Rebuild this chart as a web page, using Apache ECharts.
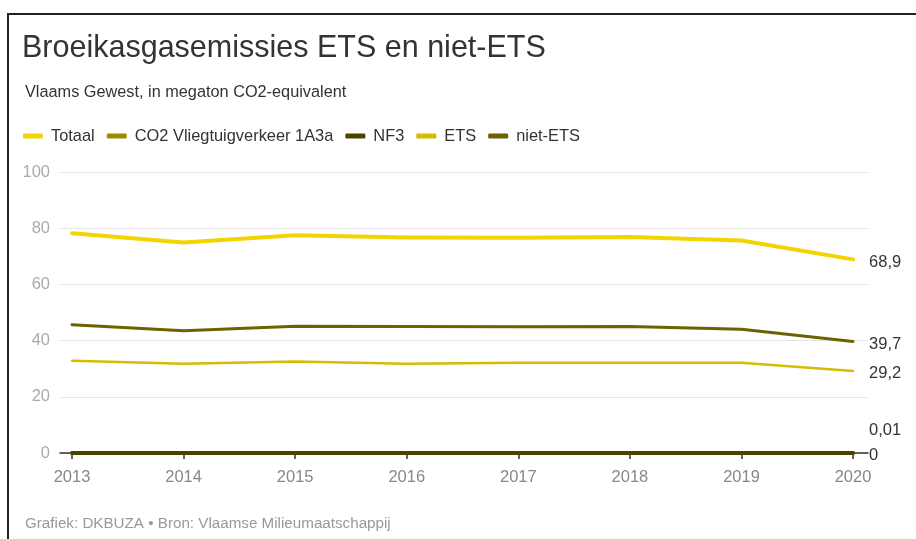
<!DOCTYPE html>
<html>
<head>
<meta charset="utf-8">
<script src="https://cdn.jsdelivr.net/npm/echarts@6/dist/echarts.min.js"></script>
<style>
  html, body { margin: 0; padding: 0; background: #fff; }
  #wrap { position: relative; width: 916px; height: 539px; overflow: hidden; }
  #frame { position: absolute; left: 7px; top: 13px; width: 1000px; height: 600px;
           border-top: 2px solid #222; border-left: 2px solid #222; }
  #chart { position: absolute; left: 0; top: 0; width: 916px; height: 539px; }
</style>
</head>
<body>
<div id="wrap">
  <div id="frame"></div>
  <div id="chart"></div>
</div>
<script>
// years and values (megaton CO2-equivalent)
var years = [2013, 2014, 2015, 2016, 2017, 2018, 2019, 2020]
var totaal = [78.2, 74.9, 77.5, 76.7, 76.6, 76.9, 75.6, 68.9]
var co2Vlieg = [0.01, 0.01, 0.01, 0.01, 0.01, 0.01, 0.01, 0.01]
var nf3 = [0, 0, 0, 0, 0, 0, 0, 0]
var ets = [32.8, 31.8, 32.6, 31.8, 32.1, 32.1, 32.1, 29.2]
var nietEts = [45.6, 43.5, 45.1, 45.0, 44.9, 45.0, 44.0, 39.7]
var yTicks = [0, 20, 40, 60, 80, 100]

var names = ['Totaal', 'CO2 Vliegtuigverkeer 1A3a', 'NF3', 'ETS', 'niet-ETS']
var colors = ['#f2d500', '#9c8a00', '#4d4200', '#d4bd00', '#6d6200']
var widths = [4, 4, 4, 2.5, 3]
var labelDy = [3, -23, 2, 3, 3]
var values = [totaal, co2Vlieg, nf3, ets, nietEts]
var drawOrder = [1, 2, 3, 4, 0]
var font = 'Liberation Sans'

function fmt (v) {
  return String(v).replace('.', ',')
}

function makeSeries () {
  let series = []
  for (let k = 0; k < drawOrder.length; k++) {
    let i = drawOrder[k]
    series.push({
      type: 'line',
      name: names[i],
      data: years.map(function (y, j) { return [y, values[i][j]] }),
      showSymbol: false,
      symbol: 'none',
      smooth: false,
      z: 3 + k,
      color: colors[i],
      lineStyle: { width: widths[i], color: colors[i], cap: 'round', join: 'round' },
      endLabel: {
        show: true,
        offset: [8, labelDy[i]],
        color: '#333',
        fontSize: 16.5,
        fontFamily: font,
        formatter: function (p) { return fmt(p.value[1]) }
      },
      emphasis: { disabled: true }
    })
  }
  return series
}

var chart = echarts.init(document.getElementById('chart'), null, { renderer: 'canvas' })
var option = {
  animation: false,
  backgroundColor: 'transparent',
  textStyle: { fontFamily: font },
  title: [{
    text: 'Broeikasgasemissies ETS en niet-ETS',
    left: 17,
    top: 28,
    textStyle: { fontSize: 30.5, fontWeight: 'normal', color: '#333', fontFamily: font }
  }, {
    text: 'Vlaams Gewest, in megaton CO2-equivalent',
    left: 20,
    top: 80,
    textStyle: { fontSize: 16.3, fontWeight: 'normal', color: '#333', fontFamily: font }
  }, {
    text: 'Grafiek: DKBUZA \u2022 Bron: Vlaamse Milieumaatschappij',
    left: 20,
    top: 511,
    textStyle: { fontSize: 15.2, fontWeight: 'normal', color: '#999', fontFamily: font }
  }],
  legend: {
    left: 18,
    top: 123,
    itemWidth: 20,
    itemHeight: 5,
    itemGap: 12,
    icon: 'roundRect',
    selectedMode: false,
    data: names.map(function (n, i) {
      return { name: n, itemStyle: { color: colors[i] } }
    }),
    textStyle: { fontSize: 16.4, color: '#333', padding: [0, 0, 0, 3], fontFamily: font }
  },
  grid: { left: 60, right: 48, top: 172, bottom: 86, containLabel: false },
  xAxis: {
    type: 'value',
    min: 2012.892,
    max: 2020.134,
    splitLine: { show: false },
    axisLine: { show: true, onZero: true, lineStyle: { color: '#333', width: 1.5 } },
    axisTick: { show: true, customValues: years, length: 6, lineStyle: { color: '#333', width: 1.5 } },
    axisLabel: {
      customValues: years,
      color: '#888',
      fontSize: 16.5,
      margin: 16,
      formatter: function (v) { return String(v) }
    }
  },
  yAxis: {
    type: 'value',
    min: yTicks[0],
    max: yTicks[yTicks.length - 1],
    interval: 20,
    axisLine: { show: false },
    axisTick: { show: false },
    axisLabel: { color: '#aaa', fontSize: 16.5, margin: 10 },
    splitLine: { lineStyle: { color: '#e6e6e6', width: 1 } }
  },
  tooltip: { show: false },
  series: makeSeries()
}
chart.setOption(option)
</script>
</body>
</html>
